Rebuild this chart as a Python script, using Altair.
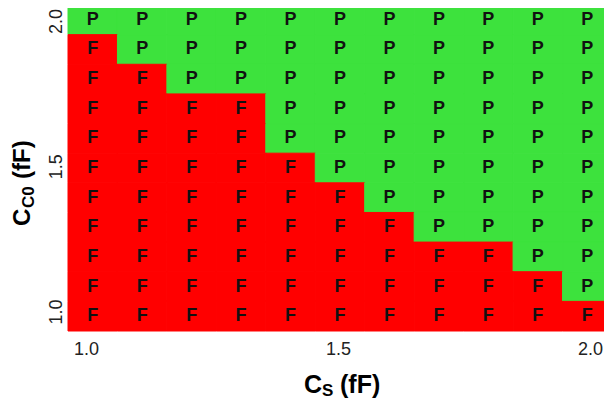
import altair as alt
import pandas as pd

# C_S values (columns) and C_C0 values (rows)
cs_values = [1.0, 1.1, 1.2, 1.3, 1.4, 1.5, 1.6, 1.7, 1.8, 1.9, 2.0]
cc0_values = [2.0, 1.9, 1.8, 1.7, 1.6, 1.5, 1.4, 1.3, 1.2, 1.1, 1.0]
# pass / fail result, one string per C_C0 row (top to bottom), one letter per C_S column
result_rows = [
    "PPPPPPPPPPP",
    "FPPPPPPPPPP",
    "FFPPPPPPPPP",
    "FFFFPPPPPPP",
    "FFFFPPPPPPP",
    "FFFFFPPPPPP",
    "FFFFFFPPPPP",
    "FFFFFFFPPPP",
    "FFFFFFFFFPP",
    "FFFFFFFFFFP",
    "FFFFFFFFFFF",
]
tick_values = [1.0, 1.5, 2.0]

records = []
for r, cc0 in enumerate(cc0_values):
    for c, cs in enumerate(cs_values):
        records.append({"cs": cs, "cc0": cc0, "result": result_rows[r][c]})
df = pd.DataFrame(records)

W, H = 544, 326
FONT = "Liberation Sans"

cell_x = alt.Scale(domain=[0.95, 2.05], nice=False, zero=False)
cell_y = alt.Scale(domain=[0.95, 2.05], nice=False, zero=False)
col_scale = alt.Scale(domain=["F", "P"], range=["#ff0000", "#3de23d"])

cells = alt.Chart(df).transform_calculate(
    x0="datum.cs - 0.05", x1="datum.cs + 0.05",
    y0="datum.cc0 - 0.05", y1="datum.cc0 + 0.05",
).mark_rect(strokeWidth=1).encode(
    x=alt.X("x0:Q", scale=cell_x, axis=None),
    x2="x1:Q",
    y=alt.Y("y0:Q", scale=cell_y, axis=None),
    y2="y1:Q",
    color=alt.Color("result:N", scale=col_scale, legend=None),
    stroke=alt.Stroke("result:N", scale=col_scale, legend=None),
)

labels = alt.Chart(df).mark_text(
    font=FONT, fontSize=18, fontWeight="bold", color="#111111", baseline="middle", align="center"
).encode(
    x=alt.X("cs:Q", scale=cell_x, axis=None),
    y=alt.Y("cc0:Q", scale=cell_y, axis=None),
    text="result:N",
)

ticks_df = pd.DataFrame({"v": tick_values})
x_axis = alt.Chart(ticks_df).mark_point(opacity=0).encode(
    x=alt.X("v:Q", scale=alt.Scale(domain=[0.96429, 2.04365], nice=False, zero=False),
            axis=alt.Axis(values=tick_values, format=".1f", orient="bottom", domain=False,
                          ticks=False, tickSize=0, grid=False, title=None, labelFont=FONT,
                          labelFontSize=18, labelColor="#222222", labelPadding=9)),
)
y_axis = alt.Chart(ticks_df).mark_point(opacity=0).encode(
    y=alt.Y("v:Q", scale=alt.Scale(domain=[0.9329, 2.0551], nice=False, zero=False),
            axis=alt.Axis(values=tick_values, format=".1f", orient="left", domain=False,
                          ticks=False, tickSize=0, grid=False, title=None, labelFont=FONT,
                          labelFontSize=18, labelColor="#222222", labelPadding=3,
                          labelAngle=270, labelAlign="center", labelBaseline="bottom")),
)

one = pd.DataFrame({"a": [0]})

def txt(s, x, y, size, angle=0):
    kw = dict(text=s, font=FONT, fontSize=size, fontWeight="bold", color="#000000",
              align="left", baseline="alphabetic")
    if angle:
        kw["angle"] = angle
    return alt.Chart(one).mark_text(**kw).encode(x=alt.value(x), y=alt.value(y))

# x title: C_S (fF)  (plot origin is at page x 68, y 5)
xt = [txt("C", 236, 388, 25), txt("S", 254, 391, 17), txt("(fF)", 272, 388, 25)]
# y title: C_C0 (fF), rotated
yt = [txt("C", -38, 221, 24, 270), txt("C0", -34, 203, 17, 270), txt("(fF)", -38, 174, 24, 270)]

chart = alt.layer(cells, labels, x_axis, y_axis, *xt, *yt).resolve_scale(
    x="independent", y="independent"
).properties(
    width=W, height=H,
    autosize=alt.AutoSizeParams(type="none"),
    padding={"left": 60, "top": -3, "right": -8, "bottom": 68},
).configure_view(stroke=None)

chart.save("out.html", embed_options={"renderer": "svg", "actions": False})
